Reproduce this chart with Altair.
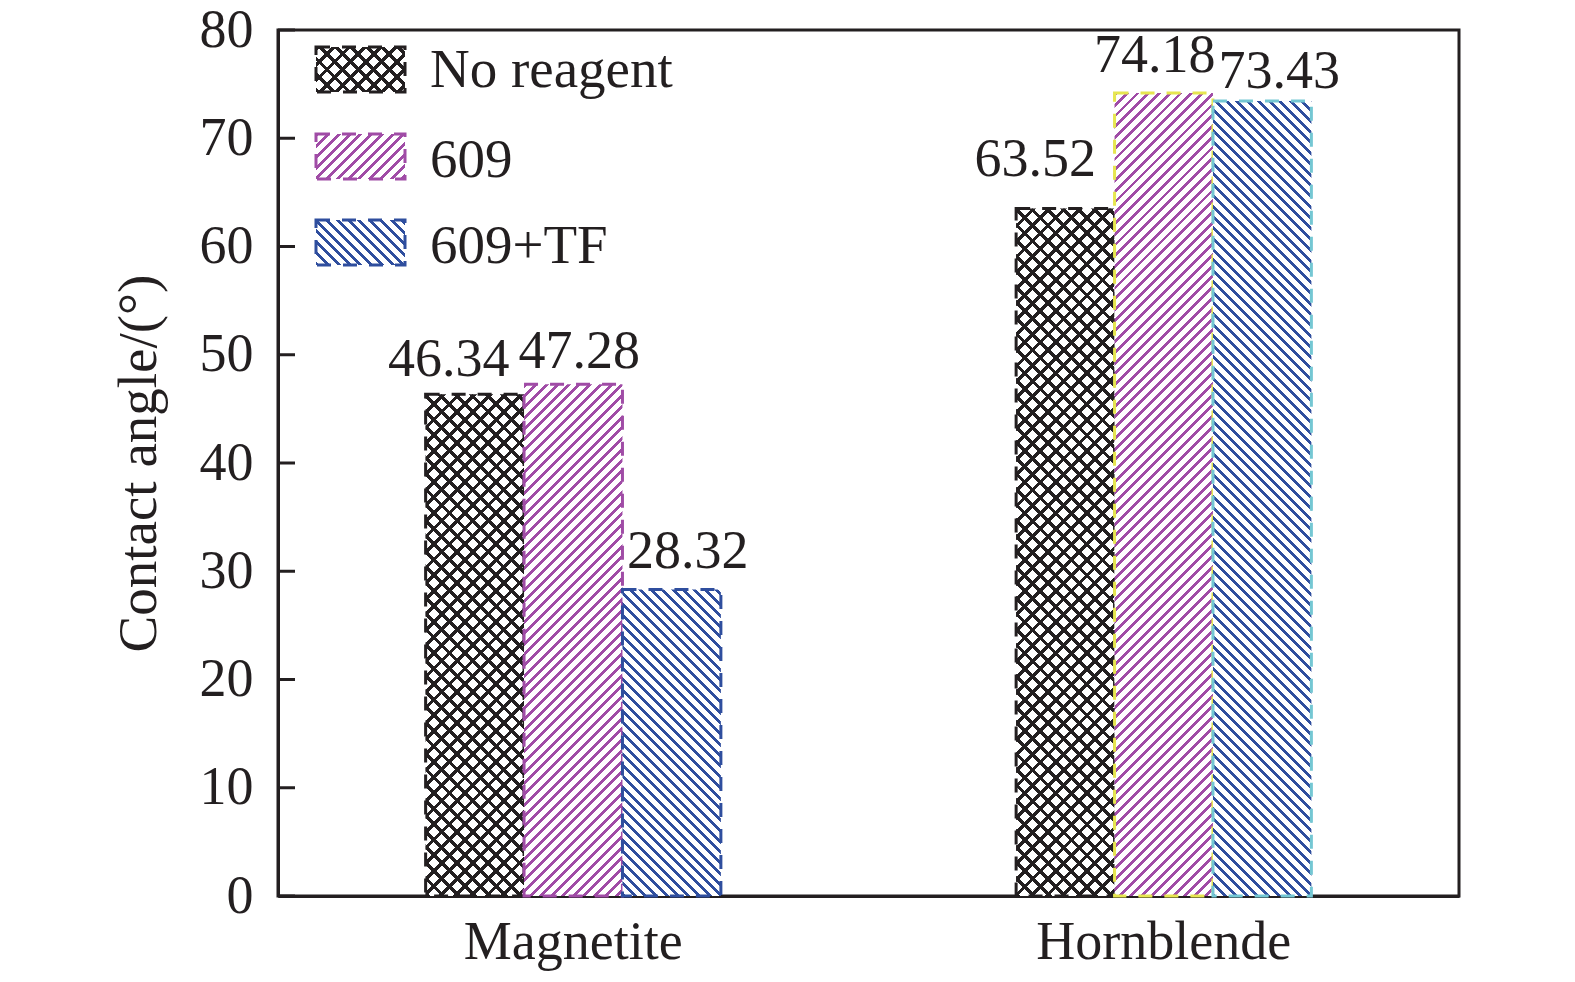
import math
import altair as alt
import pandas as pd

# ---- data ----
minerals = ["Magnetite", "Hornblende"]
series_names = ["No reagent", "609", "609+TF"]
no_reagent = [46.34, 63.52]
r609 = [47.28, 74.18]
r609_tf = [28.32, 73.43]
y_ticks = [0, 10, 20, 30, 40, 50, 60, 70, 80]

series_values = {"No reagent": no_reagent, "609": r609, "609+TF": r609_tf}
rows = []
for i, m in enumerate(minerals):
    for s in series_names:
        v = series_values[s][i]
        rows.append({"mineral": m, "series": s, "value": v, "label": f"{v:.2f}"})
df = pd.DataFrame(rows)
tick_df = pd.DataFrame({"value": y_ticks})
legend_df = pd.DataFrame({"series": series_names})

# ---- layout / style ----
W, H = 1181, 866
YMAX = 80
P_INNER, P_OUTER = 0.5, 0.25
step = W / (len(minerals) - P_INNER + 2 * P_OUTER)
bar_w = step * (1 - P_INNER) / len(series_names)

FONT = "Liberation Serif"
FS = 54
INK = "#231f20"
PURPLE = "#a04ca6"
BLUE = "#2f4e9e"
YELLOW = "#e6e650"
CYAN = "#74c7d3"
CLEAR = "rgba(255,255,255,0)"


def stripes(w, h, direction, color, period, lw, bg=CLEAR):
    k = (w + h) / (w * w + h * h)
    a, b = k * w, k * h
    L = (w + h) / math.sqrt(2)
    if direction == "/":
        x1, y1, x2, y2 = 0, 0, a, b
    else:
        x1, y1, x2, y2 = 0, 1, a, 1 - b
    stops = []
    i = 0
    while i * period / L < 1:
        s = i * period / L
        e = min((i * period + lw) / L, 1)
        n = min((i + 1) * period / L, 1)
        stops += [
            {"offset": s, "color": color},
            {"offset": e, "color": color},
            {"offset": e, "color": bg},
            {"offset": n, "color": bg},
        ]
        i += 1
    return {"gradient": "linear", "x1": x1, "y1": y1, "x2": x2, "y2": y2, "stops": stops}


pattern = {
    "No reagent": [("/", INK, 11.0, 3.4), ("\\", INK, 11.0, 3.4)],
    "609": [("/", PURPLE, 7.6, 2.8)],
    "609+TF": [("\\", BLUE, 7.6, 2.8)],
}
stroke_col = {
    ("Magnetite", "No reagent"): INK,
    ("Hornblende", "No reagent"): INK,
    ("Magnetite", "609"): PURPLE,
    ("Hornblende", "609"): YELLOW,
    ("Magnetite", "609+TF"): BLUE,
    ("Hornblende", "609+TF"): CYAN,
}
label_off = {
    ("Magnetite", "No reagent"): (-26, -18),
    ("Magnetite", "609"): (6, -16),
    ("Magnetite", "609+TF"): (16, -21),
    ("Hornblende", "No reagent"): (-30, -32),
    ("Hornblende", "609"): (-9, -21),
    ("Hornblende", "609+TF"): (17, -13),
}

x_enc = alt.X(
    "mineral:N",
    scale=alt.Scale(domain=minerals, paddingInner=P_INNER, paddingOuter=P_OUTER),
    axis=alt.Axis(
        title=None, ticks=False, tickSize=0, labelAngle=0, labelPadding=62, labelLimit=0,
        labelBaseline="alphabetic", labelFontSize=FS, labelFont=FONT, labelColor=INK,
        domainColor=INK, domainWidth=3,
    ),
)
xo_enc = alt.XOffset(
    "series:N", scale=alt.Scale(domain=series_names, paddingInner=0, paddingOuter=0)
)


def y_enc():
    return alt.Y(
        "value:Q",
        scale=alt.Scale(domain=[0, YMAX], nice=False),
        axis=alt.Axis(
            title="Contact angle/(°)", values=y_ticks, ticks=False, tickSize=0, grid=False,
            labelPadding=25, labelFontSize=FS, labelFont=FONT, labelColor=INK,
            titleFont=FONT, titleFontSize=55, titleFontWeight="normal", titleColor=INK,
            titlePadding=32, domainColor=INK, domainWidth=3,
        ),
    )


layers = []
for mi, m in enumerate(minerals):
    for s in series_names:
        v = series_values[s][mi]
        h = v / YMAX * H
        base = alt.Chart(df).transform_filter(
            (alt.datum.mineral == m) & (alt.datum.series == s)
        )
        pats = pattern[s]
        for pi, (d, col, per, lw) in enumerate(pats):
            last = pi == len(pats) - 1
            bg = "white" if pi == 0 else CLEAR
            kw = dict(fill=stripes(bar_w, h, d, col, per, lw, bg))
            if last:
                kw.update(stroke=stroke_col[(m, s)], strokeWidth=3, strokeDash=[14, 12])
            else:
                kw.update(strokeWidth=0)
            layers.append(base.mark_bar(**kw).encode(x=x_enc, xOffset=xo_enc, y=y_enc()))
        dx, dy = label_off[(m, s)]
        layers.append(
            base.mark_text(
                font=FONT, fontSize=FS, color=INK, baseline="alphabetic", align="center",
                dx=dx, dy=dy,
            ).encode(x=x_enc, xOffset=xo_enc, y=y_enc(), text="label:N")
        )

# inward y ticks
layers.append(
    alt.Chart(tick_df).mark_rule(color=INK, strokeWidth=3).encode(
        y=y_enc(), x=alt.value(0), x2=alt.value(17)
    )
)

# legend
sw_left, sw_w, sw_h = 38, 89, 45
sw_tops = [17, 104, 190]
txt_base = [57, 147, 233]
for i, s in enumerate(series_names):
    base = alt.Chart(legend_df).transform_filter(alt.datum.series == s)
    pats = pattern[s]
    for pi, (d, col, per, lw) in enumerate(pats):
        last = pi == len(pats) - 1
        bg = "white" if pi == 0 else CLEAR
        kw = dict(fill=stripes(sw_w, sw_h, d, col, per, lw, bg))
        if last:
            kw.update(stroke=col, strokeWidth=3, strokeDash=[14, 12])
        else:
            kw.update(strokeWidth=0)
        layers.append(
            base.mark_rect(**kw).encode(
                x=alt.value(sw_left), x2=alt.value(sw_left + sw_w),
                y=alt.value(sw_tops[i]), y2=alt.value(sw_tops[i] + sw_h),
            )
        )
    layers.append(
        base.mark_text(
            font=FONT, fontSize=55, color=INK, baseline="alphabetic", align="left"
        ).encode(x=alt.value(152), y=alt.value(txt_base[i]), text="series:N")
    )

chart = (
    alt.layer(*layers)
    .properties(
        width=W, height=H,
        autosize=alt.AutoSizeParams(type="none"),
        padding={"left": 270, "top": 22, "right": 40, "bottom": 76},
        background="white",
    )
    .configure_view(stroke=INK, strokeWidth=3)
)

chart.save("out.html", embed_options={"renderer": "svg", "actions": False})
